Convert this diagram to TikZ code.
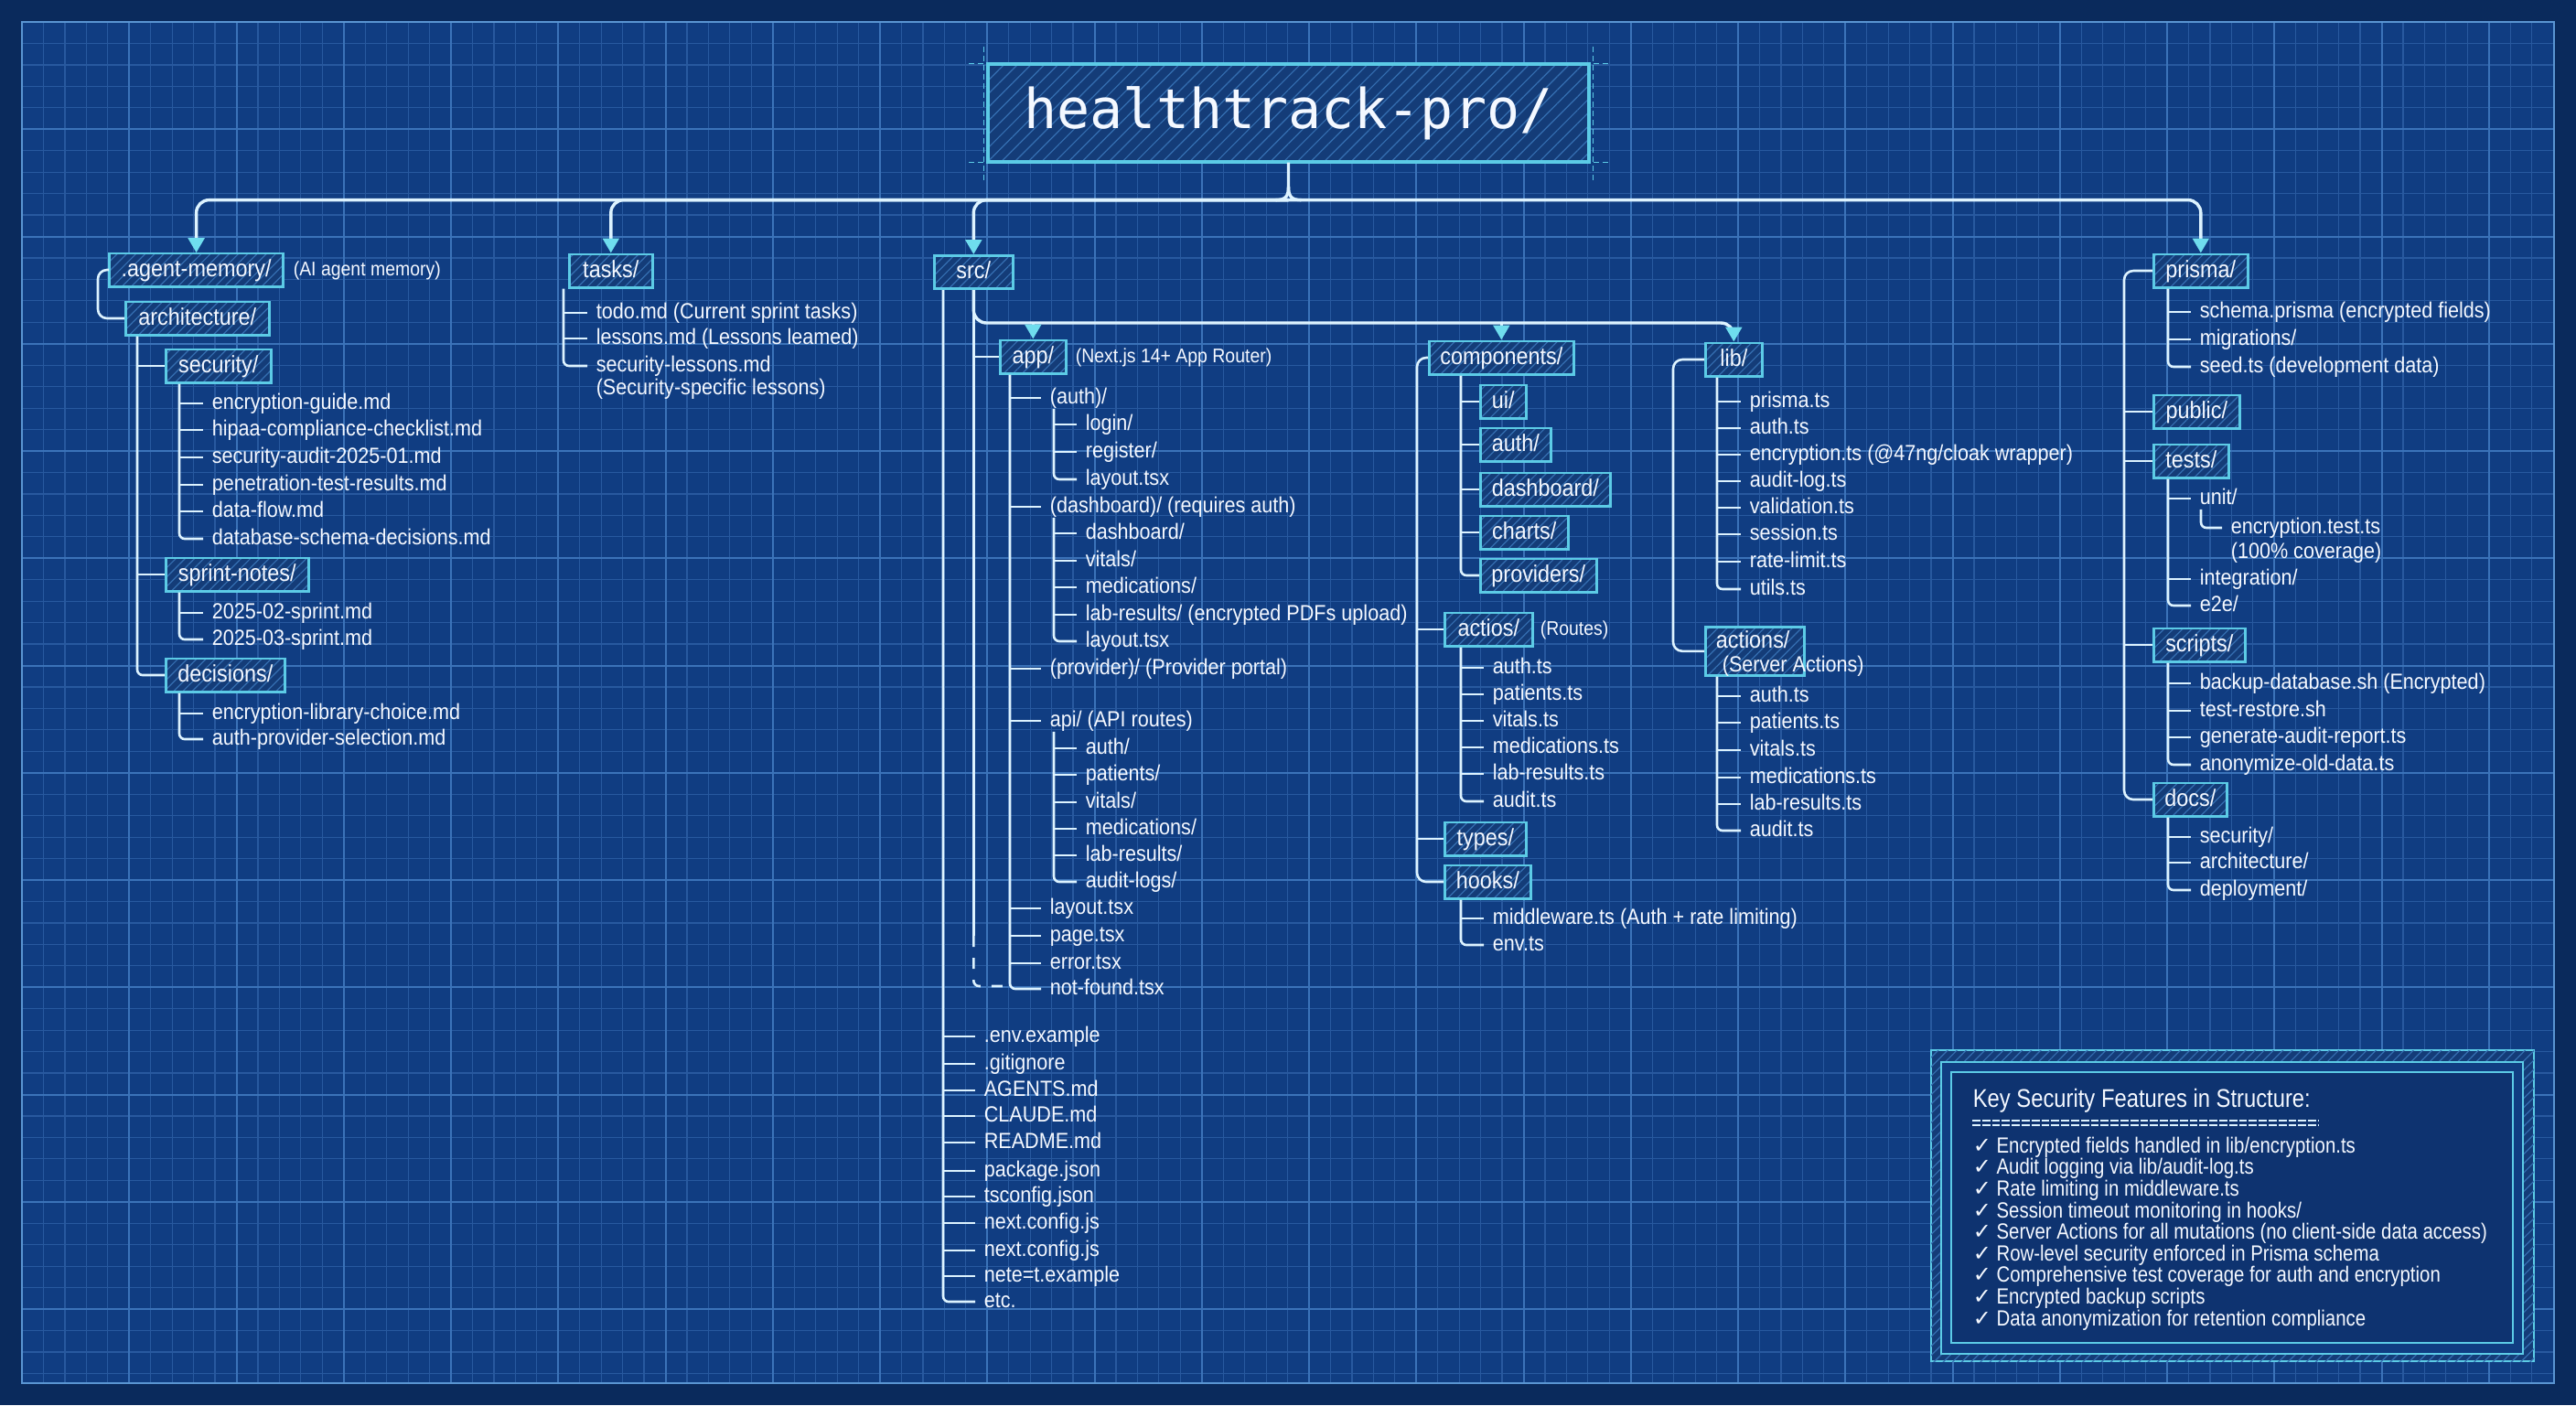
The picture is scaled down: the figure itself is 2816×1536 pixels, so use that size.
\documentclass[tikz,border=0pt]{standalone}
\usepackage{fontspec}
\setmainfont{Liberation Sans}
\newfontfamily\treefont[FakeStretch=0.9]{Liberation Sans}
\newfontfamily\keyfnt[FakeStretch=0.85]{Liberation Sans}
\newfontfamily\titlefnt{DejaVu Sans Mono}
\newfontfamily\symfnt{DejaVu Sans}
\usetikzlibrary{arrows.meta,calc,patterns.meta}

\definecolor{bgout}{HTML}{0A2A5C}
\definecolor{bgin}{HTML}{103D82}
\definecolor{gridmin}{HTML}{28599F}
\definecolor{gridmaj}{HTML}{3B73B9}
\definecolor{framec}{HTML}{5A95D2}
\definecolor{boxc}{HTML}{5CCBE6}
\definecolor{boxfill}{HTML}{143C78}
\definecolor{hatchc}{HTML}{356FB2}
\definecolor{linec}{HTML}{DDF3FF}
\definecolor{tipc}{HTML}{6FDDEE}
\definecolor{txt}{HTML}{F4F8FF}
\definecolor{keyfill}{HTML}{0E3370}

\newcommand\dirfont{\treefont\fontsize{6.5}{7.8}\selectfont}
\newcommand\itmfont{\treefont\fontsize{6}{7.2}\selectfont}
\newcommand\notefont{\treefont\fontsize{5.4}{6.5}\selectfont}
\newcommand\ck{{\symfnt\char"2713}\ }
\newcommand\stemlist[3]{\foreach \n in {#2}{\draw[tline] (#1 |- \n.west) -- (\n.west);}\draw[elbow] (#1) |- (#3.west);}

\tikzset{
  dirbox/.style={draw=boxc, line width=0.65pt, preaction={fill=boxfill},
    pattern={Lines[angle=45,distance=1.8pt,line width=0.3pt]}, pattern color=hatchc,
    text=txt, font=\dirfont, inner xsep=2pt, inner ysep=0pt, minimum height=9.1pt,
    text height=4.8pt, text depth=1.3pt, anchor=west},
  titlebox/.style={draw=boxc, line width=0.85pt, preaction={fill=boxfill},
    pattern={Lines[angle=45,distance=2.6pt,line width=0.3pt]}, pattern color=hatchc,
    text=txt, font=\titlefnt\fontsize{15}{18}\selectfont, inner sep=0pt,
    minimum width=164.25pt, minimum height=26.75pt},
  item/.style={text=txt, font=\itmfont, inner xsep=2.25pt, inner ysep=0pt,
    text height=4.3pt, text depth=1.2pt, anchor=west},
  note/.style={item, font=\notefont, inner xsep=0pt},
  tline/.style={draw=linec, line width=0.65pt},
  elbow/.style={tline, rounded corners=1.5pt},
  bracket/.style={tline, rounded corners=2.5pt},
  busln/.style={draw=linec, line width=0.85pt, rounded corners=3.5pt},
  arr/.style={busln, -{Triangle[length=4pt,width=4.4pt,color=tipc]}},
  dimln/.style={draw=boxc, line width=0.3pt, dash pattern=on 1.5pt off 1pt},
  gmin/.style={draw=gridmin, line width=0.3pt},
  gmaj/.style={draw=gridmaj, line width=0.5pt}
}

\begin{document}
\begin{tikzpicture}[x=0.25pt,y=-0.25pt]
\useasboundingbox (0,0) rectangle (2816,1536);
% background
\fill[bgout] (0,0) rectangle (2816,1536);
\fill[bgin] (24,24) rectangle (2792,1512);
\foreach \i in {0,...,118} \draw[gmin] ({24+\i*23.45},24) -- ({24+\i*23.45},1512);
\foreach \j in {0,...,63} \draw[gmin] (24,{24+\j*23.45}) -- (2792,{24+\j*23.45});
\foreach \i in {0,5,...,115} \draw[gmaj] ({24+\i*23.45},24) -- ({24+\i*23.45},1512);
\foreach \j in {0,5,...,60} \draw[gmaj] (24,{24+\j*23.45}) -- (2792,{24+\j*23.45});
\draw[framec, line width=0.6pt] (24,24) rectangle (2792,1512);

% title
\node[titlebox] (root) at (1408.5,123.5) {healthtrack-pro/};
\draw[dimln] ($(root.north west)+(-4,-18)$) -- ($(root.south west)+(-4,20)$);
\draw[dimln] ($(root.north east)+(4,-18)$) -- ($(root.south east)+(4,20)$);
\draw[dimln] ($(root.north west)+(-20,0)$) -- (root.north west);
\draw[dimln] ($(root.south west)+(-20,0)$) -- (root.south west);
\draw[dimln] ($(root.north east)+(20,0)$) -- (root.north east);
\draw[dimln] ($(root.south east)+(20,0)$) -- (root.south east);

% ---------- left column ----------
\node[dirbox, minimum width=47.5pt] (agent) at (119,295) {.agent-memory/};
\node[note] (agentN) at (320,295) {(AI agent memory)};
\node[dirbox, minimum width=39.25pt] (arch) at (136,348) {architecture/};
\node[dirbox, minimum width=28.75pt] (security) at (180,400) {security/};
\node[item] (se1) at (222,441) {encryption-guide.md};
\node[item] (se2) at (222,470) {hipaa-compliance-checklist.md};
\node[item] (se3) at (222,500) {security-audit-2025-01.md};
\node[item] (se4) at (222,530) {penetration-test-results.md};
\node[item] (se5) at (222,559) {data-flow.md};
\node[item] (se6) at (222,589) {database-schema-decisions.md};
\node[dirbox, minimum width=39pt] (sprint) at (180,628) {sprint-notes/};
\node[item] (sp1) at (222,670) {2025-02-sprint.md};
\node[item] (sp2) at (222,699) {2025-03-sprint.md};
\node[dirbox, minimum width=32.5pt] (decisions) at (180,738) {decisions/};
\node[item] (de1) at (222,780) {encryption-library-choice.md};
\node[item] (de2) at (222,808) {auth-provider-selection.md};

\draw[bracket] (agent.west) -- ++(-12,0) |- (arch.west);
\coordinate (archS) at ($(arch.south west)+(14,0)$);
\stemlist{archS}{security,sprint}{decisions}
\coordinate (secS) at ($(security.south west)+(16,0)$);
\stemlist{secS}{se1,se2,se3,se4,se5}{se6}
\coordinate (sprS) at ($(sprint.south west)+(16,0)$);
\stemlist{sprS}{sp1}{sp2}
\coordinate (decS) at ($(decisions.south west)+(16,0)$);
\stemlist{decS}{de1}{de2}

% ---------- tasks ----------
\node[dirbox, minimum width=22.75pt] (tasks) at (621,296) {tasks/};
\node[item] (ta1) at (642,342) {todo.md (Current sprint tasks)};
\node[item] (ta2) at (642,370) {lessons.md (Lessons leamed)};
\node[item] (ta3) at (642,400) {security-lessons.md};
\node[item] (ta3b) at (642,425) {(Security-specific lessons)};
\coordinate (tasS) at ($(tasks.south west)+(-5,0)$);
\stemlist{tasS}{ta1,ta2}{ta3}

% ---------- src ----------
\node[dirbox, minimum width=21.5pt] (src) at (1020,297.5) {src/};
\node[dirbox, minimum width=18pt] (app) at (1092,390) {app/};
\node[note] (appN) at (1175,390) {(Next.js 14+ App Router)};
\node[item] (a1) at (1138,435) {(auth)/};
\node[item] (b1) at (1177,464) {login/};
\node[item] (b2) at (1177,494) {register/};
\node[item] (b3) at (1177,524) {layout.tsx};
\node[item] (a2) at (1138,554) {(dashboard)/ (requires auth)};
\node[item] (c1) at (1177,583) {dashboard/};
\node[item] (c2) at (1177,613) {vitals/};
\node[item] (c3) at (1177,642) {medications/};
\node[item] (c4) at (1177,672) {lab-results/ (encrypted PDFs upload)};
\node[item] (c5) at (1177,701) {layout.tsx};
\node[item] (a3) at (1138,731) {(provider)/ (Provider portal)};
\node[item] (a4) at (1138,788) {api/ (API routes)};
\node[item] (d1) at (1177,818) {auth/};
\node[item] (d2) at (1177,847) {patients/};
\node[item] (d3) at (1177,877) {vitals/};
\node[item] (d4) at (1177,906) {medications/};
\node[item] (d5) at (1177,935) {lab-results/};
\node[item] (d6) at (1177,964) {audit-logs/};
\node[item] (a5) at (1138,993) {layout.tsx};
\node[item] (a6) at (1138,1023) {page.tsx};
\node[item] (a7) at (1138,1053) {error.tsx};
\node[item] (a8) at (1138,1081) {not-found.tsx};

\node[item] (r1) at (1066,1133) {.env.example};
\node[item] (r2) at (1066,1163) {.gitignore};
\node[item] (r3) at (1066,1192) {AGENTS.md};
\node[item] (r4) at (1066,1220) {CLAUDE.md};
\node[item] (r5) at (1066,1249) {README.md};
\node[item] (r6) at (1066,1280) {package.json};
\node[item] (r7) at (1066,1308) {tsconfig.json};
\node[item] (r8) at (1066,1337) {next.config.js};
\node[item] (r9) at (1066,1367) {next.config.js};
\node[item] (r10) at (1066,1395) {nete=t.example};
\node[item] (r11) at (1066,1423) {etc.};

\coordinate (srcL) at ($(src.south west)+(11,0)$);
\stemlist{srcL}{r1,r2,r3,r4,r5,r6,r7,r8,r9,r10}{r11}
\draw[tline] (src.south) -- (src.south |- a6.west);
\draw[tline, dashed, rounded corners=1.5pt] (src.south |- a6.west) -- ($(src.south |- a8.west)+(0,-3)$) -- ($(app.south west |- a8.west)+(12,-3)$);
\draw[tline] (src.south |- app.west) -- (app.west);
\coordinate (appS) at ($(app.south west)+(12,0)$);
\stemlist{appS}{a1,a2,a3,a4,a5,a6,a7}{a8}
\coordinate (a1S) at ($(a1.south west)+(14,0)$);
\stemlist{a1S}{b1,b2}{b3}
\coordinate (a2S) at ($(a2.south west)+(14,0)$);
\stemlist{a2S}{c1,c2,c3,c4}{c5}
\coordinate (a4S) at ($(a4.south west)+(14,0)$);
\stemlist{a4S}{d1,d2,d3,d4,d5}{d6}

% ---------- components ----------
\node[dirbox, minimum width=39.5pt] (components) at (1561,391) {components/};
\node[dirbox, minimum width=12.5pt] (ui) at (1617,439) {ui/};
\node[dirbox, minimum width=19.25pt] (cauth) at (1617,486) {auth/};
\node[dirbox, minimum width=35.5pt] (cdash) at (1617,535) {dashboard/};
\node[dirbox, minimum width=24pt] (charts) at (1617,582) {charts/};
\node[dirbox, minimum width=31.75pt] (providers) at (1617,629) {providers/};
\node[dirbox, minimum width=24pt] (actios) at (1578,688) {actios/};
\node[note] (actiosN) at (1683,688) {(Routes)};
\node[item] (e1) at (1622,730) {auth.ts};
\node[item] (e2) at (1622,759) {patients.ts};
\node[item] (e3) at (1622,788) {vitals.ts};
\node[item] (e4) at (1622,817) {medications.ts};
\node[item] (e5) at (1622,846) {lab-results.ts};
\node[item] (e6) at (1622,876) {audit.ts};
\node[dirbox, minimum width=22.25pt] (types) at (1578,917) {types/};
\node[dirbox, minimum width=23.5pt] (hooks) at (1578,964) {hooks/};
\node[item] (h1) at (1622,1004) {middleware.ts (Auth + rate limiting)};
\node[item] (h2) at (1622,1033) {env.ts};

\coordinate (cbr) at ($(components.west)+(-12,0)$);
\draw[bracket] (components.west) -- (cbr) |- (hooks.west);
\foreach \n in {actios,types} \draw[tline] (cbr |- \n.west) -- (\n.west);
\coordinate (compS) at ($(components.south west)+(36,0)$);
\stemlist{compS}{ui,cauth,cdash,charts}{providers}
\coordinate (actiosS) at ($(actios.south west)+(19,0)$);
\stemlist{actiosS}{e1,e2,e3,e4,e5}{e6}
\coordinate (hooksS) at ($(hooks.south west)+(19,0)$);
\stemlist{hooksS}{h1}{h2}

% ---------- lib ----------
\node[dirbox, minimum width=15.5pt] (lib) at (1863,393) {lib/};
\node[item] (l1) at (1903,439) {prisma.ts};
\node[item] (l2) at (1903,468) {auth.ts};
\node[item] (l3) at (1903,497) {encryption.ts (@47ng/cloak wrapper)};
\node[item] (l4) at (1903,526) {audit-log.ts};
\node[item] (l5) at (1903,555) {validation.ts};
\node[item] (l6) at (1903,584) {session.ts};
\node[item] (l7) at (1903,614) {rate-limit.ts};
\node[item] (l8) at (1903,644) {utils.ts};
\node[dirbox, minimum width=27pt, minimum height=13.25pt, anchor=north west] (actions) at (1863,684) {};
\node[item, font=\dirfont, inner xsep=0pt] (actionsT) at (1875,702) {actions/};
\node[item, inner xsep=0pt] (actionsN) at (1882,728) {(Server Actions)};
\node[item] (g1) at (1903,761) {auth.ts};
\node[item] (g2) at (1903,790) {patients.ts};
\node[item] (g3) at (1903,820) {vitals.ts};
\node[item] (g4) at (1903,850) {medications.ts};
\node[item] (g5) at (1903,879) {lab-results.ts};
\node[item] (g6) at (1903,908) {audit.ts};

\coordinate (lbr) at ($(lib.west)+(-34,0)$);
\draw[bracket] (lib.west) -- (lbr) |- (actions.west);
\coordinate (libS) at ($(lib.south west)+(14,0)$);
\stemlist{libS}{l1,l2,l3,l4,l5,l6,l7}{l8}
\coordinate (actS) at ($(actions.south west)+(14,0)$);
\stemlist{actS}{g1,g2,g3,g4,g5}{g6}

% ---------- prisma column ----------
\node[dirbox, minimum width=25.75pt] (prisma) at (2353,296) {prisma/};
\node[item] (p1) at (2395,341) {schema.prisma (encrypted fields)};
\node[item] (p2) at (2395,371) {migrations/};
\node[item] (p3) at (2395,401) {seed.ts (development data)};
\node[dirbox, minimum width=23.5pt] (public) at (2353,450) {public/};
\node[dirbox, minimum width=20.5pt] (tests) at (2353,504) {tests/};
\node[item] (t1) at (2395,545) {unit/};
\node[item] (t1a) at (2429,577) {encryption.test.ts};
\node[item] (t1b) at (2429,604) {(100\% coverage)};
\node[item] (t2) at (2395,633) {integration/};
\node[item] (t3) at (2395,662) {e2e/};
\node[dirbox, minimum width=25pt] (scripts) at (2353,705) {scripts/};
\node[item] (s1) at (2395,747) {backup-database.sh (Encrypted)};
\node[item] (s2) at (2395,777) {test-restore.sh};
\node[item] (s3) at (2395,806) {generate-audit-report.ts};
\node[item] (s4) at (2395,836) {anonymize-old-data.ts};
\node[dirbox, minimum width=20pt] (docs) at (2353,874) {docs/};
\node[item] (o1) at (2395,915) {security/};
\node[item] (o2) at (2395,943) {architecture/};
\node[item] (o3) at (2395,973) {deployment/};

\coordinate (pbr) at ($(prisma.west)+(-31,0)$);
\draw[bracket] (prisma.west) -- (pbr) |- (docs.west);
\foreach \n in {public,tests,scripts} \draw[tline] (pbr |- \n.west) -- (\n.west);
\coordinate (prS) at ($(prisma.south west)+(17,0)$);
\stemlist{prS}{p1,p2}{p3}
\coordinate (teS) at ($(tests.south west)+(17,0)$);
\stemlist{teS}{t1,t2}{t3}
\coordinate (unS) at ($(t1.south west)+(11,0)$);
\draw[elbow] (unS) |- (t1a.west);
\coordinate (scS) at ($(scripts.south west)+(17,0)$);
\stemlist{scS}{s1,s2,s3}{s4}
\coordinate (doS) at ($(docs.south west)+(17,0)$);
\stemlist{doS}{o1,o2}{o3}

% ---------- main bus ----------
\coordinate (busC) at ($(root.south)+(0,41)$);
\draw[arr] (busC) -| (agent.north);
\draw[arr] (busC) -| (tasks.north);
\draw[arr] (busC) -| (src.north);
\draw[arr] (busC) -| (prisma.north);
\draw[busln, rounded corners=0pt] (root.south) -- ($(root.south)+(0,26)$) .. controls ($(root.south)+(0,37)$) and ($(root.south)+(-3,41)$) .. ($(root.south)+(-14,41)$);
\draw[busln, rounded corners=0pt] ($(root.south)+(0,26)$) .. controls ($(root.south)+(0,37)$) and ($(root.south)+(3,41)$) .. ($(root.south)+(14,41)$);

% src bus
\coordinate (srcBus) at ($(src.south)+(0,36)$);
\draw[arr] (src.south) |- (lib.north |- srcBus) -- (lib.north);
\draw[arr] (app.north |- srcBus) -- (app.north);
\draw[arr] (components.north |- srcBus) -- (components.north);

% ---------- key security box ----------
\draw[draw=boxc, line width=0.5pt, fill=boxfill, postaction={pattern={Lines[angle=45,distance=1.8pt,line width=0.3pt]}, pattern color=hatchc}] (2111,1148) rectangle (2770,1488);
\draw[draw=boxc, line width=0.6pt, fill=bgin] (2122,1161) rectangle (2758,1480);
\draw[draw=boxc, line width=0.6pt, fill=keyfill] (2133,1172) rectangle (2747,1468);
\node[anchor=west, inner sep=0pt, text=txt, font=\keyfnt\fontsize{7}{8}\selectfont] (keytitle) at (2156,1203) {Key Security Features in Structure:};
\draw[linec, line width=0.3pt, dash pattern=on 2.2pt off 0.5pt] ($(keytitle.west)+(0,22)$) -- +(379,0);
\draw[linec, line width=0.3pt, dash pattern=on 2.2pt off 0.5pt] ($(keytitle.west)+(0,27)$) -- +(379,0);
\node[anchor=north west, align=left, inner sep=0pt, text=txt, font=\keyfnt\fontsize{6}{5.9}\selectfont] (keylist) at (2156,1242) {%
\ck Encrypted fields handled in lib/encryption.ts\\
\ck Audit logging via lib/audit-log.ts\\
\ck Rate limiting in middleware.ts\\
\ck Session timeout monitoring in hooks/\\
\ck Server Actions for all mutations (no client-side data access)\\
\ck Row-level security enforced in Prisma schema\\
\ck Comprehensive test coverage for auth and encryption\\
\ck Encrypted backup scripts\\
\ck Data anonymization for retention compliance};
\end{tikzpicture}
\end{document}
